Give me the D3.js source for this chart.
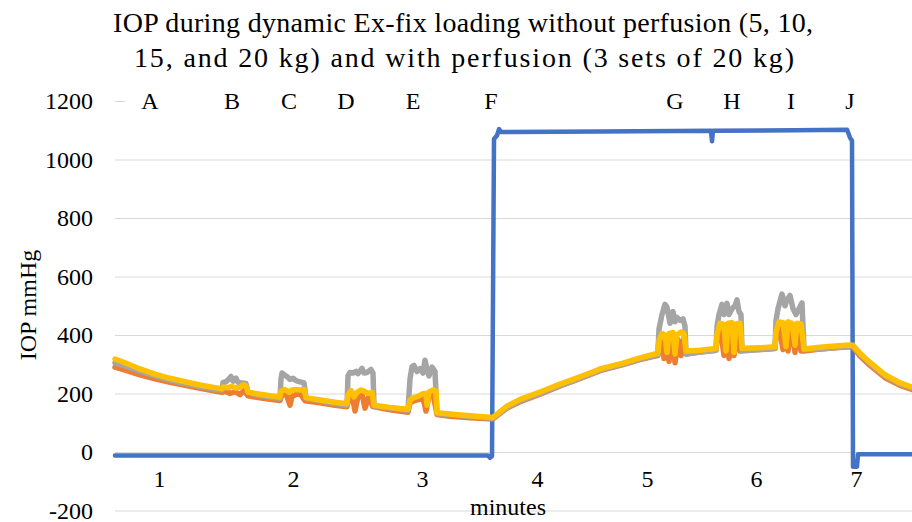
<!DOCTYPE html>
<html>
<head>
<meta charset="utf-8">
<script src="https://cdn.jsdelivr.net/npm/d3@7"></script>
<style>
  body { margin: 0; background: #fff; }
  text { font-family: "Liberation Serif", "Times New Roman", serif; fill: #000; }
</style>
</head>
<body>
<div id="my_graphic"></div>
<script>
// x is the sample index along the recording (Excel category axis)
var yTicks = [-200, 0, 200, 400, 600, 800, 1000, 1200];
var minuteLabels = ['1', '2', '3', '4', '5', '6', '7'];
var minutePos = [44, 178, 307, 422, 532, 641, 741];
var letters = ['A', 'B', 'C', 'D', 'E', 'F', 'G', 'H', 'I', 'J'];
var letterPos = [35, 117, 174, 231, 298, 376, 560, 617, 676, 735];

// blue series
var seriesBlue = [[0,-12],[150,-12],[300,-12],[373,-12],[375,-20],[377,-14],[379,1070],[382,1082],[384,1104],
  [386,1094],[485,1096],[596,1098],[597,1062],[598,1098],[680,1100],[732,1102],[735,1075],[737,1064],
  [738,-50],[742,-50],[743,-8],[797,-8]];

// orange series
var seriesOrange = [[0,290],[10,280],[25,264],[40,250],[55,238],[70,228],[85,218],[100,208],[107,204],
  [110,208],[115,200],[120,206],[125,196],[129,210],[133,192],
  [140,188],[155,180],[165,176],
  [167,195],[171,200],[175,160],[177,190],[182,198],[186,196],[190,175],
  [205,168],[220,160],[232,155],
  [234,185],[237,195],[240,140],[243,190],[247,200],[250,150],[254,190],[258,155],
  [275,144],[293,136],
  [295,168],[299,175],[304,180],[308,185],[311,140],[314,192],[318,200],[322,128],
  [335,122],[355,117],[378,113],
  [392,150],[405,172],[425,198],[445,226],[458,242],[475,264],[485,278],[508,299],[525,316],[540,328],[543,330],
  [544,400],[547,395],[549,320],[552,390],[554,310],[558,395],[560,305],[563,385],[566,330],[569,390],[571,335],
  [585,342],[601,348],
  [602,390],[605,430],[609,330],[612,420],[614,320],[617,425],[619,330],[622,420],[625,345],[627,348],
  [645,350],[660,354],
  [661,395],[664,435],[668,350],[671,430],[673,345],[677,430],[680,340],[682,430],[686,345],[689,345],
  [705,352],[720,356],[735,360],[738,358],[745,328],[755,296],[770,254],[785,228],[797,214]];

// gray series
var seriesGray = [[0,305],[10,294],[25,276],[40,260],[55,246],[70,234],[85,224],[100,214],[107,212],
  [108,238],[111,240],[114,250],[116,258],[118,242],[121,252],[123,238],[127,236],[131,234],[133,205],
  [140,196],[155,188],[165,184],
  [166,250],[167,270],[170,262],[172,258],[175,248],[178,252],[181,244],[185,240],[189,236],[191,184],
  [205,175],[220,166],[232,160],
  [233,260],[235,272],[238,270],[241,276],[243,268],[247,286],[249,270],[252,272],[256,282],[258,270],[259,158],
  [275,150],[293,143],
  [295,250],[297,292],[299,296],[302,275],[305,285],[308,270],[310,314],[312,280],[314,260],[317,290],[320,275],[322,132],
  [335,128],[355,121],[378,115],
  [392,152],[405,175],[425,200],[445,227],[458,243],[475,266],[485,280],[508,300],[525,318],[540,330],[543,333],
  [544,420],[547,470],[550,505],[552,495],[555,440],[558,480],[560,445],[562,460],[565,450],[568,455],[570,430],[571,335],
  [585,342],[601,348],
  [602,430],[604,470],[607,505],[609,470],[612,508],[614,470],[617,490],[620,500],[622,520],[624,480],[626,470],[627,345],
  [645,350],[660,355],
  [661,450],[663,490],[667,540],[670,500],[672,520],[675,535],[678,490],[681,470],[684,490],[687,510],[689,350],
  [705,352],[720,356],[735,362],[738,362],[745,334],[755,302],[770,260],[785,232],[797,220]];

// yellow series
var seriesYellow = [[0,318],[10,305],[25,284],[40,266],[55,252],[70,240],[85,229],[100,220],[107,216],
  [108,222],[113,220],[117,224],[121,218],[125,222],[128,230],[131,226],[133,205],
  [140,200],[155,192],[165,188],
  [166,208],[170,214],[174,204],[177,212],[181,214],[185,212],[189,214],[191,186],
  [205,178],[220,170],[232,165],
  [233,195],[236,210],[239,188],[242,204],[246,212],[249,208],[253,200],[257,204],[259,160],
  [275,152],[293,146],
  [295,178],[299,186],[303,190],[307,198],[311,200],[312,160],[314,205],[318,212],[321,210],[322,134],
  [335,130],[355,124],[378,118],
  [392,157],[405,180],[425,205],[445,232],[458,248],[475,270],[485,284],[508,304],[525,322],[540,335],[543,338],
  [544,380],[547,405],[550,400],[552,340],[554,405],[558,408],[560,335],[562,400],[566,410],[569,405],[571,345],
  [585,348],[601,354],
  [602,400],[605,440],[609,436],[611,345],[613,440],[617,442],[619,340],[621,438],[625,440],[627,355],
  [645,356],[660,360],
  [661,410],[664,445],[668,442],[671,360],[673,445],[677,440],[680,365],[682,440],[686,438],[689,352],
  [705,358],[720,362],[735,366],[738,365],[745,338],[755,306],[770,264],[785,236],[797,222]];

draw_plot();

function draw_plot() {
    // set the dimensions and margins of the graph
    const margin = {top: 101, right: 0, bottom: 11.5, left: 115},
        width = 912 - margin.left - margin.right,
        height = 522 - margin.top - margin.bottom;

    const root = d3.select("#my_graphic")
        .append("svg")
        .attr("width", 912)
        .attr("height", 522);

    const svg = root.append("g")
        .attr("transform", `translate(${margin.left},${margin.top})`);

    // title, two lines
    root.append("text")
        .attr("x", 463)
        .attr("y", 22)
        .attr("dy", "0.35em")
        .attr("text-anchor", "middle")
        .attr("textLength", 700)
        .attr("lengthAdjust", "spacing")
        .style("font-size", "28px")
        .text("IOP during dynamic Ex-fix loading without perfusion (5, 10,");
    root.append("text")
        .attr("x", 464)
        .attr("y", 57)
        .attr("dy", "0.35em")
        .attr("text-anchor", "middle")
        .attr("textLength", 660)
        .attr("lengthAdjust", "spacing")
        .style("font-size", "28px")
        .text("15, and 20 kg) and with perfusion (3 sets of 20 kg)");

    const x = d3.scaleLinear()
        .domain([0, 797])
        .range([0, width]);

    const y = d3.scaleLinear()
        .domain([-200, 1200])
        .range([height, 0]);

    // Y axis + gridlines
    svg.append("g")
        .call(d3.axisLeft(y)
            .tickValues(yTicks)
            .tickFormat(d => String(d))
            .tickSize(-width)
            .tickPadding(22))
        .call(g => g.select(".domain").remove())
        .call(g => g.selectAll(".tick line")
            .attr("stroke", "#d9d9d9")
            .attr("stroke-width", 1))
        .call(g => g.selectAll(".tick text")
            .style("font-size", "24px")
            .attr("font-family", null));

    // X axis labels sit on the zero line
    svg.append("g")
        .attr("transform", `translate(0, ${y(0)})`)
        .call(d3.axisBottom(x)
            .tickValues(minutePos)
            .tickFormat((d, i) => minuteLabels[i])
            .tickSize(0)
            .tickPadding(18))
        .call(g => g.select(".domain").remove())
        .call(g => g.selectAll(".tick text")
            .style("font-size", "24px")
            .attr("font-family", null));

    // axis titles
    svg.append("text")
        .attr("transform", `translate(${28 - margin.left}, ${305 - margin.top}) rotate(-90)`)
        .attr("dy", "0.35em")
        .attr("text-anchor", "middle")
        .style("font-size", "24px")
        .text("IOP mmHg");

    svg.append("text")
        .attr("x", 508 - margin.left)
        .attr("y", 507 - margin.top)
        .attr("dy", "0.35em")
        .attr("text-anchor", "middle")
        .style("font-size", "24px")
        .text("minutes");

    // text box with event letters covers the top gridline
    svg.append("rect")
        .attr("x", 10)
        .attr("y", y(1200) - 16)
        .attr("width", width - 10)
        .attr("height", 30)
        .attr("fill", "#fff");

    svg.selectAll(".letter")
        .data(letters)
        .join("text")
        .attr("class", "letter")
        .attr("x", (d, i) => x(letterPos[i]))
        .attr("y", y(1200))
        .attr("dy", "0.35em")
        .attr("text-anchor", "middle")
        .style("font-size", "24px")
        .text(d => d);

    const line = d3.line()
        .x(d => x(d[0]))
        .y(d => y(d[1]));

    const series = [
        {values: seriesBlue, color: "#4472c4", w: 4.5},
        {values: seriesOrange, color: "#ed7d31", w: 5.5},
        {values: seriesGray, color: "#a5a5a5", w: 5.5},
        {values: seriesYellow, color: "#ffc000", w: 5.5}
    ];

    svg.append("g")
        .selectAll("path")
        .data(series)
        .join("path")
        .attr("fill", "none")
        .attr("stroke", d => d.color)
        .attr("stroke-width", d => d.w)
        .attr("stroke-linejoin", "round")
        .attr("stroke-linecap", "round")
        .attr("d", d => line(d.values));
}
</script>
</body>
</html>
